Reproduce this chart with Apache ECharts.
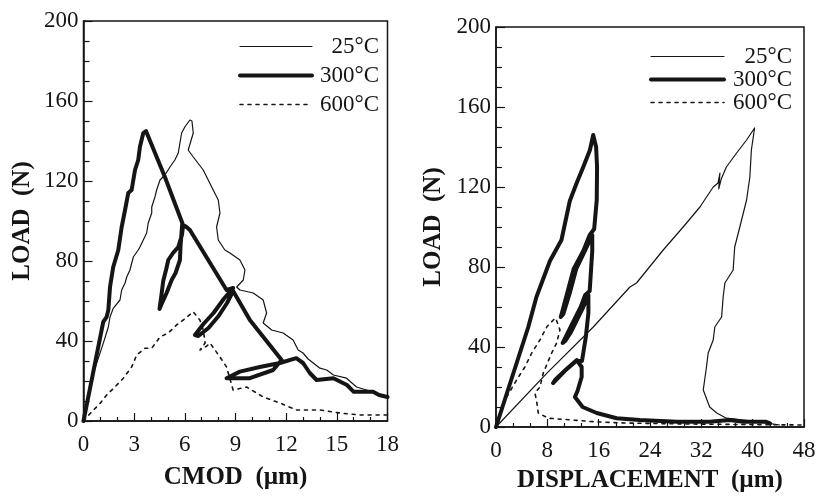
<!DOCTYPE html>
<html>
<head>
<meta charset="utf-8">
<script src="https://cdn.jsdelivr.net/npm/echarts@6/dist/echarts.min.js"></script>
<style>
html,body{margin:0;padding:0;background:#fff;}
#main{width:819px;height:503px;}
</style>
</head>
<body>
<div id="main"></div>
<script>
// legend names
var names = ['25°C', '300°C', '600°C'];

// left panel: load (N) vs CMOD (um)
var cmod25 = [[0,0],[0.58,23.8],[1.17,38.8],[1.47,47],[1.57,52],[1.76,56.3],[2.16,60.5],[2.26,65.5],[2.46,69],[2.56,72],
  [2.75,75.5],[2.95,82],[3.24,85.5],[3.34,87],[3.54,90.5],[3.74,94],[3.83,99],[4.04,104],[4.04,107],[4.23,112],
  [4.33,115.5],[4.53,120.5],[4.82,123],[5.12,127],[5.41,130.5],[5.61,134],[5.71,139],[5.81,144],[6.0,147],[6.3,150.5],
  [6.42,150],[6.5,144],[6.2,135.5],[6.5,132],[7.09,125.5],[7.59,117],[7.98,110.5],[8.08,104],[7.88,97],[7.98,90.5],
  [8.37,85.5],[8.67,84],[9.26,80.5],[9.56,75.5],[9.46,70.5],[9.07,67],[9.26,65.5],[10.05,64],[10.64,60.5],[10.84,54],
  [10.64,49],[11.14,45.5],[11.82,44],[12.41,40.5],[12.71,35.5],[13.0,34],[13.3,31],[14.0,26.4],[14.4,25.5],[14.8,23],
  [15.57,21.4],[16.17,17],[16.76,15.5],[17.54,13],[18,12]];
var cmod300 = [[0,0],[1.17,49.6],[1.37,52],[1.47,55.5],[1.57,67],[1.76,77],[2.06,85.5],[2.26,97],[2.46,105.5],[2.65,114],
  [2.85,115.5],[3.05,125.5],[3.24,130.5],[3.34,137],[3.54,144],[3.7,145],[4.82,122],[5.85,99],
  [5.75,88],[5.71,80.5],[5.45,74],[5.22,70.5],[4.92,64],[4.6,58],[4.5,56],[4.6,62],[4.72,70],[4.9,76],[5.02,80.5],
  [5.3,84],[5.61,87],[5.83,93],[5.9,98],[6.1,97],[6.3,95.5],[8.47,65.5],[8.86,66.5],
  [8.3,61],[7.7,54],[7.1,48.5],[6.6,43],[6.5,42],[6.8,42.5],[7.4,46.5],[8.0,52.5],[8.5,59],[8.86,65],
  [9.85,50.5],[11.73,30.5],[11.23,25.5],[9.85,21.4],[8.47,21.4],[8.37,22],[9.26,24.7],[10.44,27],[11.63,29],[12.6,31.4],
  [13.0,29],[13.4,24],[13.8,20.5],[14.8,21.4],[15.6,18],[16.0,14.6],[17.15,14.6],[17.5,13],[18,12]];
var cmod600 = [[0,0],[0.49,4.6],[0.98,8.8],[1.37,13],[1.86,17],[2.36,21.4],[2.85,27],[3.15,33],[3.64,36.4],[4.04,36.4],
  [4.53,42],[5.02,44],[5.51,48],[5.91,50.5],[6.5,54.6],[6.89,50.5],[7.09,45.5],[7.2,39],[6.9,35.5],[7.3,37.5],
  [7.49,39],[8.08,32],[8.47,27],[8.86,15.5],[9.66,17],[10.64,12],[11.63,9],[12.6,5.5],[14.0,5.5],[15.18,4],
  [16.36,3],[17.94,3]];

// right panel: load (N) vs displacement (um)
var disp25 = [[0,0],[7.9,26.8],[15.16,50],[20.87,70],[21.9,72],[26.06,88.5],[29.17,100],[31.78,110],[33.85,120],[34.6,122],
  [34.9,127],[34.7,119],[35.1,124],[35.9,130],[37.5,137],[39.05,143.5],[40.3,149.5],[40.6,148.5],[39.8,138.5],[39.56,125],
  [39.05,113.5],[38.0,100],[37.2,90],[36.96,78.5],[35.67,72],[35.4,65],[35.16,55],[34.1,50],[33.85,43.5],[33.07,37],
  [32.8,30],[32.3,18.5],[33.3,10],[34.4,7],[35.9,4.4],[41.1,2.6],[44.2,1]];
var disp300 = [[0,0],[5.03,50],[6.3,65],[8.4,83],[10.2,93.5],[11.5,113],[12.57,122],[13.6,130],[14.64,138.5],[15.15,146],
  [15.6,140],[15.75,130],[15.7,113.5],[15.3,99],
  [14.6,96],[13.6,88],[12.1,79],[11.1,67],[10.1,55],[10.5,56.5],[11.5,67],[12.5,79],[14.0,89],[15.0,96],
  [15.0,88],[14.8,78],[14.6,68],
  [13.9,66],[13.2,60],[12.1,53],[11.1,46.5],[10.4,42],[10.8,43],[11.6,47],[12.6,53.5],[13.6,60],[14.4,66],
  [14.4,57],[14.0,45],[13.6,37],[13.4,33],
  [12.5,33],[10.7,28],[8.9,22],[9.2,23.5],[11,29],[12.6,33.5],[13.35,30],
  [13.35,25],[12.7,18],[12.3,15],[13.5,10],[15.7,7],[18.8,4.4],[22.4,3.5],[28.2,2.6],[33.3,2.6],
  [36.4,3.5],[38.5,2.6],[42.1,2.6],[42.7,1.8]];
var disp600 = [[0,0],[1.4,13.5],[3.2,23.5],[4.5,30],[5.56,37],[6.85,43.5],[7.9,50],[8.93,53.5],[9.3,54.5],[9.97,48.5],
  [9.45,42],[8.68,37],[7.37,27],[6.85,20],[6.07,17],[6.34,12.7],[6.59,7],[8.15,4.4],[11.8,3.5],[15.4,2.6],
  [20,2],[30,1.5],[40,1.2],[48,1]];

var ink = '#151515';
var serif = '"Liberation Serif","Times New Roman",serif';
var styles = {
    thin: {color: ink, width: 1.2, type: 'solid'},
    thick: {color: ink, width: 4, type: 'solid'},
    dot: {color: ink, width: 1.6, type: [3, 5]}
};
var kinds = ['thin', 'thick', 'dot'];

var myChart = echarts.init(document.getElementById('main'));

function xAxisOf(grid, max, interval, name, gap) {
    return {
        type: 'value', gridIndex: grid, min: 0, max: max, interval: interval,
        name: name, nameLocation: 'middle', nameGap: gap,
        nameTextStyle: {fontFamily: serif, fontWeight: 'bold', fontSize: 25, color: ink},
        axisLine: {lineStyle: {color: ink, width: 1.5}},
        axisTick: {inside: true, length: 8, lineStyle: {color: ink, width: 1.2}},
        minorTick: {show: true, splitNumber: 3, length: 4, lineStyle: {color: ink, width: 1.2}},
        axisLabel: {fontFamily: serif, fontSize: 23, color: ink, margin: 12},
        splitLine: {show: false}
    };
}
function yAxisOf(grid, gap) {
    return {
        type: 'value', gridIndex: grid, min: 0, max: 200, interval: 40,
        name: 'LOAD  (N)', nameLocation: 'middle', nameGap: gap,
        nameTextStyle: {fontFamily: serif, fontWeight: 'bold', fontSize: 25, color: ink},
        axisLine: {lineStyle: {color: ink, width: 1.5}},
        axisTick: {inside: true, length: 9, lineStyle: {color: ink, width: 1.2}},
        minorTick: {show: true, splitNumber: 4, length: 6, lineStyle: {color: ink, width: 1.2}},
        axisLabel: {fontFamily: serif, fontSize: 23, color: ink, margin: 5},
        splitLine: {show: false}
    };
}
function line(k, data, idx) {
    var s = styles[kinds[k]];
    return {
        name: names[k], type: 'line', xAxisIndex: idx, yAxisIndex: idx,
        data: data, symbol: 'none', smooth: false, animation: false,
        lineStyle: {color: s.color, width: s.width, type: s.type, join: 'round', cap: 'round'},
        itemStyle: {color: ink}
    };
}
function legendOf(left, top, boxW, iconW, gap) {
    return {
        data: names.map(function (n, i) {
            var s = styles[kinds[i]];
            return {name: n, lineStyle: {color: s.color, width: s.width, type: s.type}};
        }),
        orient: 'vertical', left: left, top: top, padding: 0, itemGap: gap,
        itemWidth: iconW, itemHeight: 24, selectedMode: false,
        itemStyle: {color: 'rgba(0,0,0,0)', borderColor: 'rgba(0,0,0,0)', borderWidth: 0},
        formatter: '{t|{name}}',
        textStyle: {
            color: ink, fontFamily: serif, fontSize: 23,
            rich: {t: {width: boxW, align: 'right', fontFamily: serif, fontSize: 23, color: ink}}
        }
    };
}

var option = {
    backgroundColor: '#fff',
    animation: false,
    grid: [
        {left: 83.5, top: 21, width: 304, height: 400, show: true, borderColor: ink, borderWidth: 1.5, backgroundColor: 'transparent'},
        {left: 496, top: 27, width: 308, height: 400, show: true, borderColor: ink, borderWidth: 1.5, backgroundColor: 'transparent'}
    ],
    legend: [legendOf(238, 35, 62, 72, 6), legendOf(649, 45, 63, 73, 0)],
    xAxis: [xAxisOf(0, 18, 3, 'CMOD  (µm)', 44), xAxisOf(1, 48, 8, 'DISPLACEMENT  (µm)', 41)],
    yAxis: [yAxisOf(0, 48), yAxisOf(1, 50)],
    series: [
        line(0, cmod25, 0),
        line(1, cmod300, 0),
        line(2, cmod600, 0),
        line(0, disp25, 1),
        line(1, disp300, 1),
        line(2, disp600, 1)
    ]
};
myChart.setOption(option);
</script>
</body>
</html>
